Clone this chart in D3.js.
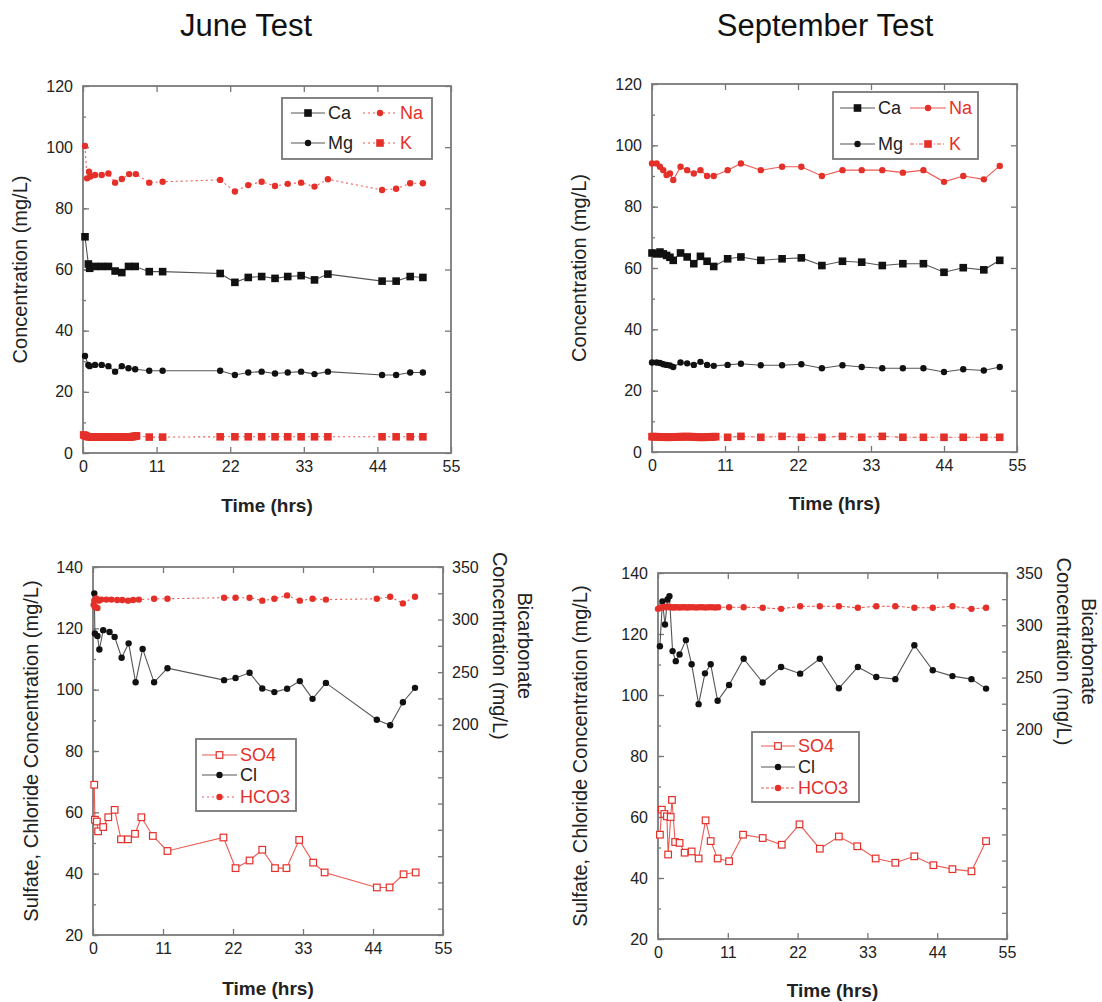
<!DOCTYPE html>
<html>
<head>
  <meta charset="utf-8">
  <title>June / September Test</title>
  <script src="https://cdn.jsdelivr.net/npm/d3@7"></script>
  <style>
    body { margin: 0; background: #fff; }
    text { font-family: 'Liberation Sans', Arial, sans-serif; }
  </style>
</head>
<body>
<script>
// ---- data ----
// June, cations
var juneTime = [0.3,0.8,1.0,1.8,2.8,3.8,4.8,5.8,6.8,7.8,9.9,11.9,20.5,22.7,24.7,26.7,28.7,30.6,32.6,34.6,36.6,44.7,46.8,48.9,50.8];
var juneCa = [70.7,61.8,60.4,61,61,61,59.5,59,61,61,59.3,59.3,58.7,55.8,57.4,57.7,57.1,57.7,58,56.6,58.5,56.2,56.2,57.7,57.4];
var juneMg = [31.7,28.8,28.4,28.8,28.8,28.4,26.6,28.4,27.7,27.4,26.9,26.9,26.9,25.5,26.3,26.6,26,26.3,26.6,25.8,26.6,25.5,25.5,26.3,26.3];
var juneNaTime = [0.3,0.6,0.9,1.1,1.8,2.8,3.8,4.8,5.8,6.9,7.9,9.9,11.9,20.5,22.7,24.7,26.7,28.7,30.6,32.6,34.6,36.6,44.7,46.8,48.9,50.8];
var juneNa = [100.4,89.8,92,90.4,90.9,90.9,91.4,88.4,89.6,91.2,91.2,88.4,88.7,89.3,85.5,87.6,88.7,87.3,88,88.4,87.1,89.5,86,86.4,88.2,88.2];
var juneKTime = [0.1,0.3,0.5,0.8,1.0,1.3,1.5,1.8,2.0,2.3,2.5,2.8,3.0,3.3,3.5,3.8,4.0,4.3,4.5,4.8,5.0,5.3,5.5,5.8,6.0,6.3,6.5,6.8,7.0,7.3,7.5,7.8,8.0,9.9,11.9,20.5,22.7,24.7,26.7,28.7,30.6,32.6,34.6,36.6,44.7,46.8,48.9,50.8];
var juneK = [5.9,5.7,5.5,5.3,5.3,5.2,5.2,5.2,5.2,5.2,5.2,5.2,5.2,5.2,5.2,5.2,5.2,5.2,5.2,5.2,5.2,5.2,5.2,5.2,5.2,5.2,5.2,5.2,5.2,5.3,5.4,5.5,5.6,5.2,5.2,5.3,5.3,5.3,5.3,5.3,5.3,5.3,5.3,5.3,5.3,5.3,5.3,5.3];

// September, cations
var septTime = [0,0.7,1.2,1.7,2.2,2.7,3.2,4.3,5.3,6.3,7.3,8.3,9.3,11.4,13.4,16.4,19.6,22.5,25.6,28.7,31.6,34.7,37.8,40.9,44.0,46.9,50.0,52.4];
var septNa = [94.1,94.1,93.0,91.9,90.3,90.8,88.7,93.0,91.9,90.8,91.9,90.0,90.0,91.9,94.1,91.9,93.0,93.0,90.0,91.9,91.9,91.9,91.1,91.9,88.1,90.0,88.9,93.3];
var septCa = [64.9,64.6,65.2,64.6,64.1,63.5,62.5,64.9,63.6,61.4,63.8,62.2,60.5,63.0,63.6,62.5,63.0,63.3,60.8,62.2,61.9,60.8,61.4,61.4,58.6,60.1,59.4,62.5];
var septMg = [29.2,29.2,29.0,28.6,28.4,28.2,27.7,29.2,28.9,28.4,29.4,28.4,28.1,28.4,28.8,28.3,28.3,28.6,27.3,28.3,27.7,27.3,27.3,27.3,26.1,27.0,26.6,27.7];
var septKTime = [0,0.3,0.6,0.9,1.2,1.5,1.8,2.1,2.4,2.7,3.0,3.3,3.6,3.9,4.2,4.5,4.8,5.1,5.4,5.7,6.0,6.3,6.6,6.9,7.2,7.5,7.8,8.1,8.4,8.7,9.0,9.3,9.6,11.4,13.4,16.4,19.6,22.5,25.6,28.7,31.6,34.7,37.8,40.9,44.0,46.9,50.0,52.4];
var septK = [5.0,5.0,5.0,4.9,4.9,4.9,4.9,4.8,4.8,4.8,4.9,4.9,4.9,4.9,5.0,5.0,5.0,5.0,5.0,5.0,5.0,4.9,4.9,4.8,4.8,4.8,4.8,4.8,4.9,4.9,4.9,5.0,5.0,4.8,5.1,4.8,5.1,4.8,4.8,5.1,4.8,5.1,4.8,4.8,4.8,4.8,4.8,4.8];

// June, anions
var juneClTime = [0.2,0.3,0.7,1.0,1.6,2.6,3.4,4.5,5.6,6.7,7.8,9.6,11.7,20.6,22.4,24.6,26.6,28.5,30.5,32.5,34.5,36.6,44.6,46.7,48.7,50.6];
var juneCl = [131.4,118.3,117.5,113.1,119.4,118.8,117.2,110.4,115.1,102.4,113.3,102.4,107.0,103.1,103.8,105.5,100.4,99.2,100.3,102.8,97.0,102.2,90.2,88.4,95.9,100.6];
var juneSO4Time = [0.2,0.3,0.6,0.8,1.6,2.4,3.4,4.4,5.5,6.6,7.6,9.4,11.7,20.5,22.4,24.6,26.6,28.6,30.4,32.4,34.6,36.4,44.6,46.6,48.8,50.7];
var juneSO4 = [69.0,57.6,57.0,53.8,55.2,58.4,60.8,51.2,51.2,53.0,58.4,52.3,47.4,51.8,41.8,44.3,47.8,41.8,41.8,51.0,43.6,40.4,35.5,35.5,39.8,40.4];
var juneHCO3Time = [0.1,0.2,0.3,0.5,0.7,0.9,1.3,2.1,2.9,3.8,4.6,5.5,6.3,7.2,9.6,11.7,20.6,22.4,24.6,26.6,28.5,30.5,32.5,34.5,36.6,44.6,46.7,48.7,50.6];
var juneHCO3 = [314,318,312,320,311,318,319,319,319,318.6,318.6,318,318.6,319,319.8,319.8,320.8,320.8,320.8,318,319.8,323,318,319.8,319,319.8,321.7,315.4,321.7];

// September, anions
var septClTime = [0.3,0.7,1.1,1.5,1.8,2.3,2.8,3.4,4.4,5.3,6.4,7.4,8.3,9.4,11.2,13.5,16.5,19.4,22.4,25.5,28.5,31.5,34.4,37.4,40.4,43.3,46.4,49.4,51.7];
var septCl = [116.0,130.7,123.1,131.3,132.4,114.4,111.1,113.3,118.0,110.1,97.0,107.1,110.1,98.1,103.3,111.9,104.1,109.2,107.0,111.9,102.2,109.2,105.9,105.2,116.3,108.1,106.2,105.2,102.1];
var septSO4Time = [0.3,0.6,1.0,1.4,1.6,2.0,2.2,2.7,3.4,4.2,5.3,6.4,7.5,8.3,9.4,11.2,13.4,16.5,19.5,22.3,25.5,28.5,31.4,34.3,37.4,40.4,43.4,46.4,49.4,51.7];
var septSO4 = [54.2,62.4,61.0,60.2,47.7,60.0,65.6,51.8,51.5,48.3,48.7,46.4,58.9,52.1,46.4,45.5,54.2,53.1,50.9,57.6,49.6,53.6,50.4,46.4,45.0,47.1,44.2,42.9,42.2,52.1];
var septHCO3Time = [0,0.3,0.6,0.9,1.2,1.5,1.8,2.1,2.4,2.7,3.0,3.4,3.8,4.2,4.6,5.0,5.5,6.0,6.5,7.0,7.5,8.0,8.5,9.0,9.5,11.2,13.5,16.5,19.4,22.4,25.5,28.5,31.5,34.4,37.4,40.4,43.3,46.4,49.4,51.7];
var septHCO3 = [315.7,316.5,317,317.5,317.3,318,317.3,317.3,317,317.3,317.3,317,317.3,317.3,317,317.3,317.3,317,317.3,317.3,317,317.3,317.3,317,317.3,317.3,317.3,316.7,315.7,318.2,318.2,318.2,316.7,318.2,318.2,316.7,316.7,318.2,315.7,316.7];

// axis ticks
var timeTicks = [0, 11, 22, 33, 44, 55];
var cationTicks = [0, 20, 40, 60, 80, 100, 120];
var anionTicks = [20, 40, 60, 80, 100, 120, 140];
var bicarbTicks = [200, 250, 300, 350];

var RED = "#e5302a", REDLINE = "#ec5a52", BLACK = "#111", BLACKLINE = "#555";

var width = 1102, height = 1002;
var svg = d3.select("body").append("svg").attr("width", width).attr("height", height);
svg.append("rect").attr("width", width).attr("height", height).attr("fill", "#fff");

function zip(xs, ys) { return xs.map(function(x, i) { return [x, ys[i]]; }); }

function marker(g, type, x, y, color) {
  if (type == "square") {
    g.append("rect").attr("x", x - 3.8).attr("y", y - 3.8).attr("width", 7.6).attr("height", 7.6).attr("fill", color);
  } else if (type == "osquare") {
    g.append("rect").attr("x", x - 3.3).attr("y", y - 3.3).attr("width", 6.6).attr("height", 6.6)
      .attr("fill", "#fff").attr("stroke", color).attr("stroke-width", 1.2);
  } else {
    g.append("circle").attr("cx", x).attr("cy", y).attr("r", 3.2).attr("fill", color);
  }
}

function panel(p) {
  var g = svg.append("g");
  var x = d3.scaleLinear().domain([0, 55]).range([p.x0, p.x1]);
  var y = d3.scaleLinear().domain(p.yDomain).range([p.y1, p.y0]);
  var y2 = p.y2 ? d3.scaleLinear().domain([0, 350]).range([p.y1, p.y0]) : null;

  // ticks, all pointing inward
  function clean(sel) {
    sel.select(".domain").remove();
    sel.selectAll("line").attr("stroke", "#777").attr("stroke-width", 1.3);
    sel.selectAll("text").attr("fill", "#222").attr("font-size", "16px");
  }
  var minor = d3.range(p.yDomain[0], p.yDomain[1] + 1, 10);
  g.append("g").attr("transform", "translate(" + p.x0 + ",0)")
    .call(d3.axisLeft(y).tickValues(minor).tickSize(-3).tickFormat("")).call(clean);
  g.append("g").attr("transform", "translate(" + p.x0 + ",0)")
    .call(d3.axisLeft(y).tickValues(p.yTicks).tickSize(-6).tickPadding(10)).call(clean);
  g.append("g").attr("transform", "translate(0," + p.y1 + ")")
    .call(d3.axisBottom(x).tickValues(timeTicks).tickSize(-6).tickPadding(8)).call(clean);
  g.append("g").attr("transform", "translate(0," + p.y0 + ")")
    .call(d3.axisTop(x).tickValues(timeTicks).tickSize(-6).tickFormat("")).call(clean);
  if (y2) {
    g.append("g").attr("transform", "translate(" + p.x1 + ",0)")
      .call(d3.axisRight(y2).tickValues(d3.range(0, 351, 25)).tickSize(-5).tickFormat("")).call(clean);
    g.append("g").attr("transform", "translate(" + p.x1 + ",0)")
      .call(d3.axisRight(y2).tickValues(bicarbTicks).tickSize(0).tickPadding(9)).call(clean);
  } else {
    g.append("g").attr("transform", "translate(" + p.x1 + ",0)")
      .call(d3.axisRight(y).tickValues(p.yTicks).tickSize(-6).tickFormat("")).call(clean);
  }

  // frame
  g.append("rect").attr("x", p.x0).attr("y", p.y0)
    .attr("width", p.x1 - p.x0).attr("height", p.y1 - p.y0)
    .attr("fill", "none").attr("stroke", "#7a7a7a").attr("stroke-width", 1.8);

  // series
  p.series.forEach(function(s) {
    var ys = s.right ? y2 : y;
    var pts = zip(s.t, s.v);
    g.append("path").datum(pts)
      .attr("fill", "none").attr("stroke", s.line).attr("stroke-width", 1.1)
      .attr("stroke-dasharray", s.dash || null)
      .attr("d", d3.line().x(function(d) { return x(d[0]); }).y(function(d) { return ys(d[1]); }));
    var mg = g.append("g");
    pts.forEach(function(d) { marker(mg, s.marker, x(d[0]), ys(d[1]), s.color); });
  });

  // labels
  g.append("text").attr("x", (p.x0 + p.x1) / 2).attr("y", p.xLabelY)
    .attr("text-anchor", "middle").attr("font-size", "19px").attr("font-weight", "bold")
    .attr("fill", "#222").text("Time (hrs)");
  g.append("text").attr("transform", "translate(" + p.yLabelX + "," + (p.y0 + p.y1) / 2 + ") rotate(-90)")
    .attr("text-anchor", "middle").attr("dominant-baseline", "central")
    .attr("font-size", "20px").attr("fill", "#222").text(p.yLabel);
  if (y2) {
    var yc = y2(275);
    g.append("text").attr("transform", "translate(" + (p.x1 + 57) + "," + yc + ") rotate(90)")
      .attr("text-anchor", "middle").attr("dominant-baseline", "central")
      .attr("font-size", "20px").attr("fill", "#222").text("Concentration (mg/L)");
    g.append("text").attr("transform", "translate(" + (p.x1 + 82) + "," + yc + ") rotate(90)")
      .attr("text-anchor", "middle").attr("dominant-baseline", "central")
      .attr("font-size", "20px").attr("fill", "#222").text("Bicarbonate");
  }

  // legend
  var L = p.legend;
  g.append("rect").attr("x", L.x).attr("y", L.y).attr("width", L.w).attr("height", L.h)
    .attr("fill", "#fff").attr("stroke", "#777").attr("stroke-width", 1.8);
  L.items.forEach(function(it) {
    var s = p.series[it.i];
    g.append("line").attr("x1", it.x).attr("x2", it.x + it.len).attr("y1", it.y).attr("y2", it.y)
      .attr("stroke", s.line).attr("stroke-width", 1.1).attr("stroke-dasharray", s.dash || null);
    marker(g, s.marker, it.x + it.len / 2, it.y, s.color);
    g.append("text").attr("x", it.x + it.len + 3).attr("y", it.y).attr("dominant-baseline", "central")
      .attr("font-size", "18px").attr("fill", s.textColor).text(s.name);
  });
}

// titles
svg.append("text").attr("x", 246).attr("y", 36).attr("text-anchor", "middle")
  .attr("font-size", "31px").attr("fill", "#111").text("June Test");
svg.append("text").attr("x", 825).attr("y", 36).attr("text-anchor", "middle")
  .attr("font-size", "31px").attr("fill", "#111").text("September Test");

panel({
  x0: 83, x1: 451, y0: 86, y1: 453, yDomain: [0, 120], yTicks: cationTicks,
  xLabelY: 512, yLabelX: 20, yLabel: "Concentration (mg/L)",
  series: [
    { name: "Ca", t: juneTime, v: juneCa, color: BLACK, line: BLACKLINE, marker: "square", textColor: "#222" },
    { name: "Na", t: juneNaTime, v: juneNa, color: RED, line: REDLINE, marker: "circle", dash: "2,3", textColor: RED },
    { name: "Mg", t: juneTime, v: juneMg, color: BLACK, line: BLACKLINE, marker: "circle", textColor: "#222" },
    { name: "K", t: juneKTime, v: juneK, color: RED, line: REDLINE, marker: "square", dash: "2,3", textColor: RED }
  ],
  legend: { x: 282, y: 98, w: 150, h: 61, items: [
    { i: 0, x: 291, y: 113, len: 34 }, { i: 1, x: 363, y: 113, len: 34 },
    { i: 2, x: 291, y: 143, len: 34 }, { i: 3, x: 363, y: 143, len: 34 } ] }
});

panel({
  x0: 652, x1: 1017, y0: 84, y1: 452, yDomain: [0, 120], yTicks: cationTicks,
  xLabelY: 510, yLabelX: 579, yLabel: "Concentration (mg/L)",
  series: [
    { name: "Ca", t: septTime, v: septCa, color: BLACK, line: BLACKLINE, marker: "square", textColor: "#222" },
    { name: "Na", t: septTime, v: septNa, color: RED, line: REDLINE, marker: "circle", textColor: RED },
    { name: "Mg", t: septTime, v: septMg, color: BLACK, line: BLACKLINE, marker: "circle", textColor: "#222" },
    { name: "K", t: septKTime, v: septK, color: RED, line: REDLINE, marker: "square", dash: "4,2,1,2", textColor: RED }
  ],
  legend: { x: 833, y: 92, w: 145, h: 67, items: [
    { i: 0, x: 840, y: 108, len: 35 }, { i: 1, x: 910, y: 108, len: 36 },
    { i: 2, x: 840, y: 144, len: 35 }, { i: 3, x: 910, y: 144, len: 36 } ] }
});

panel({
  x0: 93, x1: 443, y0: 567, y1: 935, yDomain: [20, 140], yTicks: anionTicks, y2: true,
  xLabelY: 995, yLabelX: 31, yLabel: "Sulfate, Chloride Concentration (mg/L)",
  series: [
    { name: "SO4", t: juneSO4Time, v: juneSO4, color: RED, line: REDLINE, marker: "osquare", textColor: RED },
    { name: "Cl", t: juneClTime, v: juneCl, color: BLACK, line: BLACKLINE, marker: "circle", textColor: "#222" },
    { name: "HCO3", t: juneHCO3Time, v: juneHCO3, right: true, color: RED, line: REDLINE, marker: "circle", dash: "2,3", textColor: RED }
  ],
  legend: { x: 196, y: 739, w: 100, h: 72, items: [
    { i: 0, x: 202, y: 755, len: 35 }, { i: 1, x: 202, y: 775, len: 35 }, { i: 2, x: 202, y: 797, len: 35 } ] }
});

panel({
  x0: 658, x1: 1007, y0: 573, y1: 939, yDomain: [20, 140], yTicks: anionTicks, y2: true,
  xLabelY: 997, yLabelX: 580, yLabel: "Sulfate, Chloride Concentration (mg/L)",
  series: [
    { name: "SO4", t: septSO4Time, v: septSO4, color: RED, line: REDLINE, marker: "osquare", textColor: RED },
    { name: "Cl", t: septClTime, v: septCl, color: BLACK, line: BLACKLINE, marker: "circle", textColor: "#222" },
    { name: "HCO3", t: septHCO3Time, v: septHCO3, right: true, color: RED, line: REDLINE, marker: "circle", dash: "3,2", textColor: RED }
  ],
  legend: { x: 752, y: 732, w: 107, h: 70, items: [
    { i: 0, x: 761, y: 746, len: 34 }, { i: 1, x: 761, y: 767, len: 34 }, { i: 2, x: 761, y: 788, len: 34 } ] }
});
</script>
</body>
</html>
